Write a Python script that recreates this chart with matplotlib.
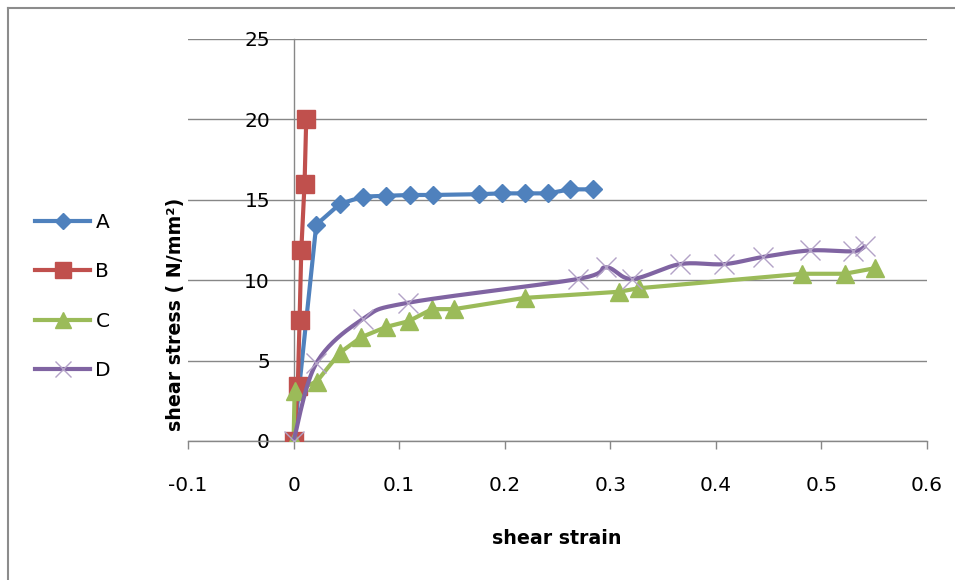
import numpy as np
import matplotlib
matplotlib.use("Agg")
import matplotlib.pyplot as plt
from matplotlib.lines import Line2D

plt.rcParams['font.family'] = ['DejaVu Sans']
plt.rcParams['axes.unicode_minus'] = False

# ---- data ----
a_x = [0, 0.0215, 0.044, 0.066, 0.088, 0.110, 0.132, 0.176, 0.197, 0.219, 0.241, 0.262, 0.284]
a_y = [0, 13.45, 14.75, 15.2, 15.25, 15.3, 15.3, 15.35, 15.4, 15.4, 15.4, 15.65, 15.65]

b_x = [0, 0.004, 0.0057, 0.0073, 0.0104, 0.012]
b_y = [0, 3.4, 7.55, 11.85, 16.0, 20.0]

c_x = [0, 0.001, 0.022, 0.044, 0.064, 0.088, 0.109, 0.131, 0.152, 0.219, 0.308, 0.327, 0.482, 0.522, 0.551]
c_y = [0, 3.1, 3.7, 5.5, 6.45, 7.1, 7.45, 8.2, 8.2, 8.9, 9.28, 9.5, 10.4, 10.4, 10.75]

d_x = [0, 0.0215, 0.066, 0.1087, 0.2697, 0.296, 0.3208, 0.366, 0.408, 0.445, 0.489, 0.530, 0.541]
d_y = [0, 4.83, 7.6, 8.6, 10.08, 10.8, 10.08, 11.0, 11.0, 11.45, 11.85, 11.8, 12.1]

series_names = ['A', 'B', 'C', 'D']
x_ticks = [-0.1, 0, 0.1, 0.2, 0.3, 0.4, 0.5, 0.6]
x_tick_labels = ['-0.1', '0', '0.1', '0.2', '0.3', '0.4', '0.5', '0.6']
y_ticks = [0, 5, 10, 15, 20, 25]
y_tick_labels = ['0', '5', '10', '15', '20', '25']

BLUE = '#4F81BD'
RED = '#C0504D'
GREEN = '#9BBB59'
PURPLE = '#8064A2'
XPURPLE = '#B3A2C7'
GRID = '#878787'


def excel_smooth(x, y, n=24):
    pts = np.column_stack([x, y]).astype(float)
    out = [pts[0]]
    m = len(pts)
    for i in range(m - 1):
        p0 = pts[i - 1] if i > 0 else pts[i]
        p1 = pts[i]
        p2 = pts[i + 1]
        p3 = pts[i + 2] if i + 2 < m else pts[i + 1]
        c1 = p1 + (p2 - p0) / 6.0
        c2 = p2 - (p3 - p1) / 6.0
        t = np.linspace(0, 1, n)[1:, None]
        seg = (1 - t) ** 3 * p1 + 3 * (1 - t) ** 2 * t * c1 + 3 * (1 - t) * t ** 2 * c2 + t ** 3 * p2
        out.extend(seg)
    out = np.array(out)
    return out[:, 0], out[:, 1]


fig = plt.figure(figsize=(9.55, 5.8), dpi=100)
ax = fig.add_axes([188 / 955, 1 - 441 / 580, (927 - 188) / 955, (441 - 39) / 580])

ax.set_xlim(-0.1, 0.6)
ax.set_ylim(0, 25)
ax.set_axisbelow(True)

# series
ax.plot(a_x, a_y, color=BLUE, lw=3, solid_joinstyle='round', zorder=3)
ax.plot(a_x, a_y, ls='none', marker='D', ms=9.5, color=BLUE, zorder=4)

ax.plot(b_x, b_y, color=RED, lw=3, zorder=3)
ax.plot(b_x, b_y, ls='none', marker='s', ms=13.5, color=RED, zorder=4)

ax.plot(c_x, c_y, color=GREEN, lw=3, solid_joinstyle='round', zorder=3)
ax.plot(c_x, c_y, ls='none', marker='^', ms=13.5, color=GREEN, zorder=4)

sx, sy = excel_smooth(d_x, d_y)
ax.plot(sx, sy, color=PURPLE, lw=3, solid_capstyle='round', zorder=5)
ax.plot(d_x, d_y, ls='none', marker='x', ms=14, mew=1.0, color=XPURPLE, zorder=6)

# axes styling
for s in ['top', 'right']:
    ax.spines[s].set_visible(False)
ax.spines['left'].set_position(('data', 0))
ax.spines['left'].set_color(GRID)
ax.spines['bottom'].set_color(GRID)
ax.spines['left'].set_linewidth(1.0)
ax.spines['bottom'].set_linewidth(1.0)

ax.set_xticks(x_ticks)
ax.set_xticklabels(x_tick_labels)
ax.set_yticks(y_ticks)
ax.set_yticklabels(y_tick_labels)
ax.tick_params(axis='x', direction='out', length=5.5, width=1.0, color=GRID,
               pad=19.5, labelsize=14.5, labelcolor='black')
ax.tick_params(axis='y', length=0, pad=17, labelsize=14.5, labelcolor='black')
ax.yaxis.grid(True, color=GRID, lw=1.0)
ax.xaxis.grid(False)

fig.text(557 / 955, 1 - 538 / 580, 'shear strain', ha='center', va='center',
         fontsize=13.7, fontweight='bold')
fig.text(175 / 955, 1 - 314 / 580, 'shear stress ( N/mm²)', ha='center', va='center',
         rotation=90, fontsize=13.7, fontweight='bold')

# legend
handles = [
    Line2D([], [], color=BLUE, lw=3, marker='D', ms=8),
    Line2D([], [], color=RED, lw=3, marker='s', ms=12),
    Line2D([], [], color=GREEN, lw=3, marker='^', ms=11),
    Line2D([], [], color=PURPLE, lw=3, marker='x', ms=12, mec=XPURPLE, mew=1.0),
]
fig.legend(handles, series_names, loc='center left',
           bbox_to_anchor=(35 / 955, 1 - 296.5 / 580), frameon=False,
           fontsize=14.5, handlelength=2.75, handletextpad=0.25,
           labelspacing=1.52, borderpad=0, borderaxespad=0)

# chart border
fig.add_artist(Line2D([8 / 955, 1.0], [1 - 8 / 580, 1 - 8 / 580], color='#8C8C8C', lw=1.5,
                      transform=fig.transFigure))
fig.add_artist(Line2D([8 / 955, 8 / 955], [0, 1 - 8 / 580], color='#8C8C8C', lw=1.5,
                      transform=fig.transFigure))

fig.savefig('out.png', dpi=100)
